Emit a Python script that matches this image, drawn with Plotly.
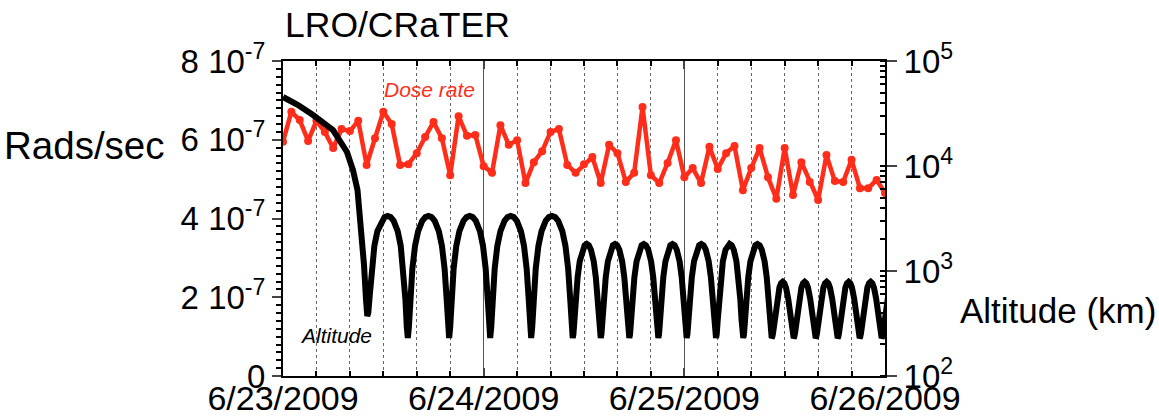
import plotly.graph_objects as go

# ---------------- data ----------------
# Dose rate (rad/s), hourly samples from 6/23/2009 00:00
dose_hours = list(range(0, 73))
dose_rate_e7 = [5.95, 6.71, 6.50, 5.97, 6.48, 6.20, 5.79, 6.27, 6.22, 6.48,
                5.36, 6.04, 6.71, 6.40, 5.36, 5.38, 5.66, 6.07, 6.45, 6.04,
                5.10, 6.60, 6.10, 6.12, 5.33, 5.16, 6.37, 5.87, 5.99, 4.90,
                5.43, 5.71, 6.20, 6.27, 5.36, 5.16, 5.38, 5.56, 4.90, 5.87,
                5.66, 4.93, 5.16, 6.83, 5.10, 4.90, 5.41, 5.99, 5.05, 5.28,
                4.90, 5.82, 5.26, 5.66, 5.84, 4.72, 5.28, 5.79, 5.05, 4.50,
                5.79, 4.60, 5.43, 4.93, 4.47, 5.61, 4.95, 4.93, 5.49, 4.77,
                4.77, 4.98, 4.65]
dose_rate = [v * 1e-7 for v in dose_rate_e7]

# Altitude (km): approach before the first perilune
approach_hours = [0.0, 1.8, 3.59, 5.98, 7.65, 8.37, 8.91, 9.33, 9.69, 9.93]
approach_km = [45400, 38100, 30600, 22000, 13600, 9160, 5910, 2740, 1140, 530]

# times of altitude minima (hours from 6/23 00:00)
perilune_hours = [10.08, 14.93, 19.87, 24.78, 29.68, 34.65, 38.0, 41.42, 44.89,
                  48.28, 51.79, 55.05, 58.45, 61.08, 63.71, 66.34, 68.97, 71.6, 74.23]
orbit_group = ["high"] * 5 + ["mid"] * 7 + ["low"] * 6

# altitude profile over half an orbit (fraction of orbit -> km), read per orbit type
profile_frac = [0, 0.025, 0.06, 0.11, 0.175, 0.25, 0.35, 0.425, 0.5]
profile_km = {
    "first": [373, 400, 580, 1060, 1739, 2398, 3005, 3257, 3340],
    "high": [230, 290, 539, 1054, 1739, 2398, 3005, 3257, 3340],
    "mid": [230, 249, 334, 541, 871, 1235, 1597, 1757, 1810],
    "low": [230, 235, 255, 311, 413, 545, 695, 765, 790],
}

date_ticks = [0, 24, 48, 72]
date_labels = ["6/23/2009", "6/24/2009", "6/25/2009", "6/26/2009"]
dose_ticks = [0, 2e-7, 4e-7, 6e-7, 8e-7]
dose_labels = ["0", "2 10<sup>-7</sup>", "4 10<sup>-7</sup>", "6 10<sup>-7</sup>", "8 10<sup>-7</sup>"]
alt_ticks = [1e2, 1e3, 1e4, 1e5]
alt_labels = ["10<sup>2</sup>", "10<sup>3</sup>", "10<sup>4</sup>", "10<sup>5</sup>"]

# ---------------- build altitude table ----------------
alt_hours = list(approach_hours)
alt_km = list(approach_km)
for i, grp in enumerate(orbit_group):
    t0, t1 = perilune_hours[i], perilune_hours[i + 1]
    dur = t1 - t0
    left = profile_km["first"] if i == 0 else profile_km[grp]
    right = profile_km[grp]
    for f, v in zip(profile_frac, left):
        if i > 0 and f == 0:
            continue
        alt_hours.append(t0 + f * dur)
        alt_km.append(v)
    for f, v in zip(reversed(profile_frac[:-1]), reversed(right[:-1])):
        alt_hours.append(t1 - f * dur)
        alt_km.append(v)

FONT = "Liberation Sans, Arial, Helvetica, sans-serif"
RED = "#ff2d1a"

fig = go.Figure()
fig.add_trace(go.Scatter(x=alt_hours, y=alt_km, yaxis="y2", mode="lines",
                         line=dict(color="black", width=6), showlegend=False,
                         hoverinfo="skip"))
fig.add_trace(go.Scatter(x=dose_hours, y=dose_rate, mode="lines+markers",
                         line=dict(color=RED, width=4.5),
                         marker=dict(color=RED, size=8), showlegend=False))

fig.update_layout(
    width=1159, height=418,
    margin=dict(l=283, r=274, t=61, b=42, autoexpand=False),
    paper_bgcolor="white", plot_bgcolor="white",
    font=dict(family=FONT, color="black"),
    xaxis=dict(range=[0, 72], tickvals=date_ticks, ticktext=date_labels, automargin=False,
               tickfont=dict(size=34), ticks="inside", ticklen=8, tickwidth=1.5,
               ticklabelstandoff=-9,
               showline=True, linecolor="black", linewidth=2, mirror="ticks",
               showgrid=True, gridcolor="#555555", gridwidth=1, zeroline=False,
               minor=dict(dtick=4, showgrid=True, griddash="dot", gridcolor="#666666",
                          gridwidth=1, ticks="inside", ticklen=5, tickcolor="black")),
    yaxis=dict(range=[0, 8e-7], tickvals=dose_ticks, ticktext=dose_labels, automargin=False,
               tickfont=dict(size=33), ticks="outside", ticklen=9, tickwidth=1.5,
               showline=True, linecolor="black", linewidth=2, showgrid=False,
               zeroline=False,
               minor=dict(dtick=2e-8, ticks="outside", ticklen=5, tickcolor="black")),
    yaxis2=dict(type="log", range=[2, 5], overlaying="y", side="right", automargin=False,
                tickvals=alt_ticks, ticktext=alt_labels, tickfont=dict(size=33),
                ticks="outside", ticklen=10, tickwidth=1.5,
                showline=True, linecolor="black", linewidth=2, showgrid=False,
                zeroline=False,
                minor=dict(dtick="D1", ticks="inside", ticklen=5, tickcolor="black")),
)

fig.add_annotation(text="LRO/CRaTER", xref="paper", yref="paper", x=0.0, y=1.114,
                   xanchor="left", yanchor="middle", showarrow=False,
                   font=dict(size=35.5, family=FONT))
fig.add_annotation(text="Rads/sec", xref="paper", yref="paper", x=-0.466, y=0.733,
                   xanchor="left", yanchor="middle", showarrow=False,
                   font=dict(size=38.5, family=FONT))
fig.add_annotation(text="Altitude (km)", xref="paper", yref="paper", x=1.121, y=0.2095,
                   xanchor="left", yanchor="middle", showarrow=False,
                   font=dict(size=35, family=FONT))
fig.add_annotation(text="<i>Dose rate</i>", xref="paper", yref="paper", x=0.164, y=0.908,
                   xanchor="left", yanchor="middle", showarrow=False,
                   font=dict(size=21, family=FONT, color=RED))
fig.add_annotation(text="<i>Altitude</i>", xref="paper", yref="paper", x=0.025, y=0.130,
                   xanchor="left", yanchor="middle", showarrow=False,
                   font=dict(size=21, family=FONT, color="black"))

fig.write_html("out.html")
